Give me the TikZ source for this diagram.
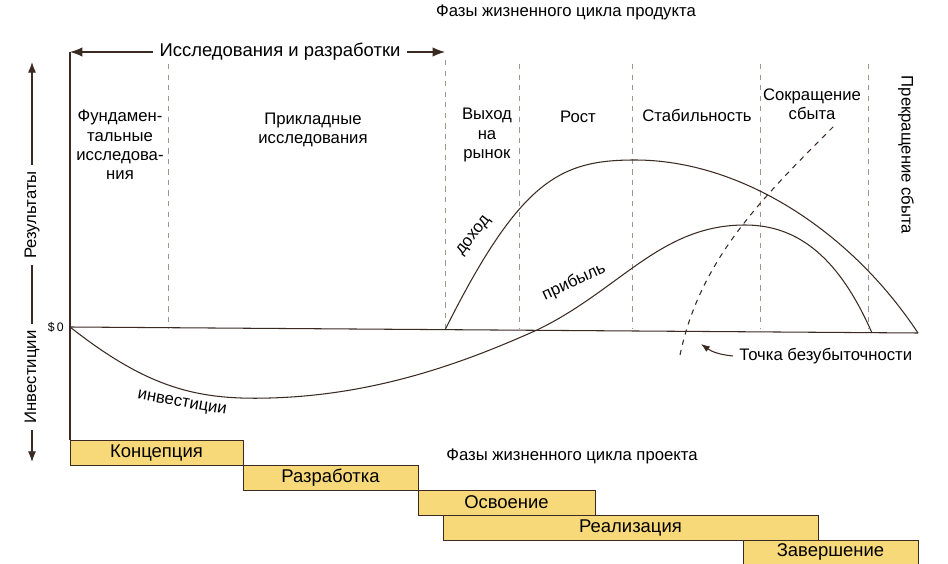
\documentclass[tikz,border=0pt]{standalone}
\usepackage{fontspec}
\setmainfont{Liberation Sans}
\usetikzlibrary{arrows.meta}
\definecolor{ink}{HTML}{3A2A22}
\definecolor{barfill}{HTML}{F7D97A}
\begin{document}
\begin{tikzpicture}[x=0.02cm,y=-0.02cm,line width=0.6pt,ink,font=\fontsize{9.5}{11}\selectfont,
  phase/.style={align=center,text=black},
  sep/.style={dashed,draw=ink!50,line width=0.5pt},
  bar/.style={draw=ink,fill=barfill,line width=0.5pt,text=black,outer sep=0pt,inner sep=0pt,
    anchor=north west,font=\fontsize{10.5}{12}\selectfont}]
\useasboundingbox (0,0) rectangle (948,564);

%titles
\node[text=black] (ptitle) at (566,12) {Фазы жизненного цикла продукта};
\node[text=black] (jtitle) at (572,456) {Фазы жизненного цикла проекта};

%axes
\coordinate (top) at (70,52);
\coordinate (zero) at (70,327);
\coordinate (bottom) at (70,440);
\coordinate (endz) at (918,333);
\draw (top) -- (bottom);
\draw (zero) -- (endz);
\node[text=black,font=\fontsize{7}{8}\selectfont,left] (dollar) at (zero) {\$\,0};

%left labels
\node[rotate=90,text=black] (res) at (32,215) {Результаты};
\node[rotate=90,text=black] (inv) at (32,377) {Инвестиции};
\draw[-{Latex[length=6pt]}] (res.east) -- (32,62);
\draw (res.west) -- (inv.east);
\draw[-{Latex[length=6pt]}] (inv.west) -- (32,462);

%research arrow
\coordinate (rd) at (445,52);
\node[fill=white,text=black,font=\fontsize{10.5}{12}\selectfont] (rdl) at (280,52) {Исследования и разработки};
\draw[-{Latex[length=7pt]}] (rdl.west) -- (top);
\draw[-{Latex[length=7pt]}] (rdl.east) -- (rd);

%separators
\foreach \x in {168,519,632,760,868} \draw[sep] (\x,64) -- (\x,328);
\draw[sep] (445,60) -- (445,328);

%phases
\node[phase] (fund) at (120,145) {Фундамен-\\тальные\\исследова-\\ния};
\node[phase] (appl) at (313,130) {Прикладные\\исследования};
\node[phase] (mark) at (487,135) {Выход\\на\\рынок};
\node[phase] (grow) at (578,117) {Рост};
\node[phase] (stab) at (697,115) {Стабильность};
\node[phase] (decl) at (812,104) {Сокращение\\сбыта};
\node[phase,rotate=-90] (stop) at (906,155) {Прекращение сбыта};

%curves
\draw (445,330) .. controls (520,180) and (560,160) .. (635,160)
  .. controls (740,160) and (850,230) .. (918,333);
\draw (zero) .. controls (150,390) and (200,400) .. (270,398)
  .. controls (380,395) and (470,360) .. (537,330)
  .. controls (620,290) and (660,225) .. (745,225)
  .. controls (800,225) and (840,260) .. (872,333);
\draw[dashed] (680,355) .. controls (700,260) and (760,200) .. (835,125);

\node[text=black,rotate=52] (inc) at (474,236) {доход};
\node[text=black,rotate=25] (prof) at (574,282) {прибыль};
\node[text=black,rotate=-10] (invc) at (182,404) {инвестиции};

%break-even
\node[text=black,right] (be) at (733,356) {Точка безубыточности};
\draw[-{Latex[length=5pt]}] (be.west) to[bend left=15] (701,344);

%project phases
\node[bar,minimum width=173*0.02cm,minimum height=25*0.02cm] (b1) at (70,440) {Концепция};
\node[bar,minimum width=175*0.02cm,minimum height=25*0.02cm] (b2) at (243,465) {Разработка};
\node[bar,minimum width=177*0.02cm,minimum height=25*0.02cm] (b3) at (418,490) {Освоение};
\node[bar,minimum width=375*0.02cm,minimum height=25*0.02cm] (b4) at (443,515) {Реализация};
\node[bar,minimum width=175*0.02cm,minimum height=24*0.02cm] (b5) at (743,540) {Завершение};
\end{tikzpicture}
\end{document}
